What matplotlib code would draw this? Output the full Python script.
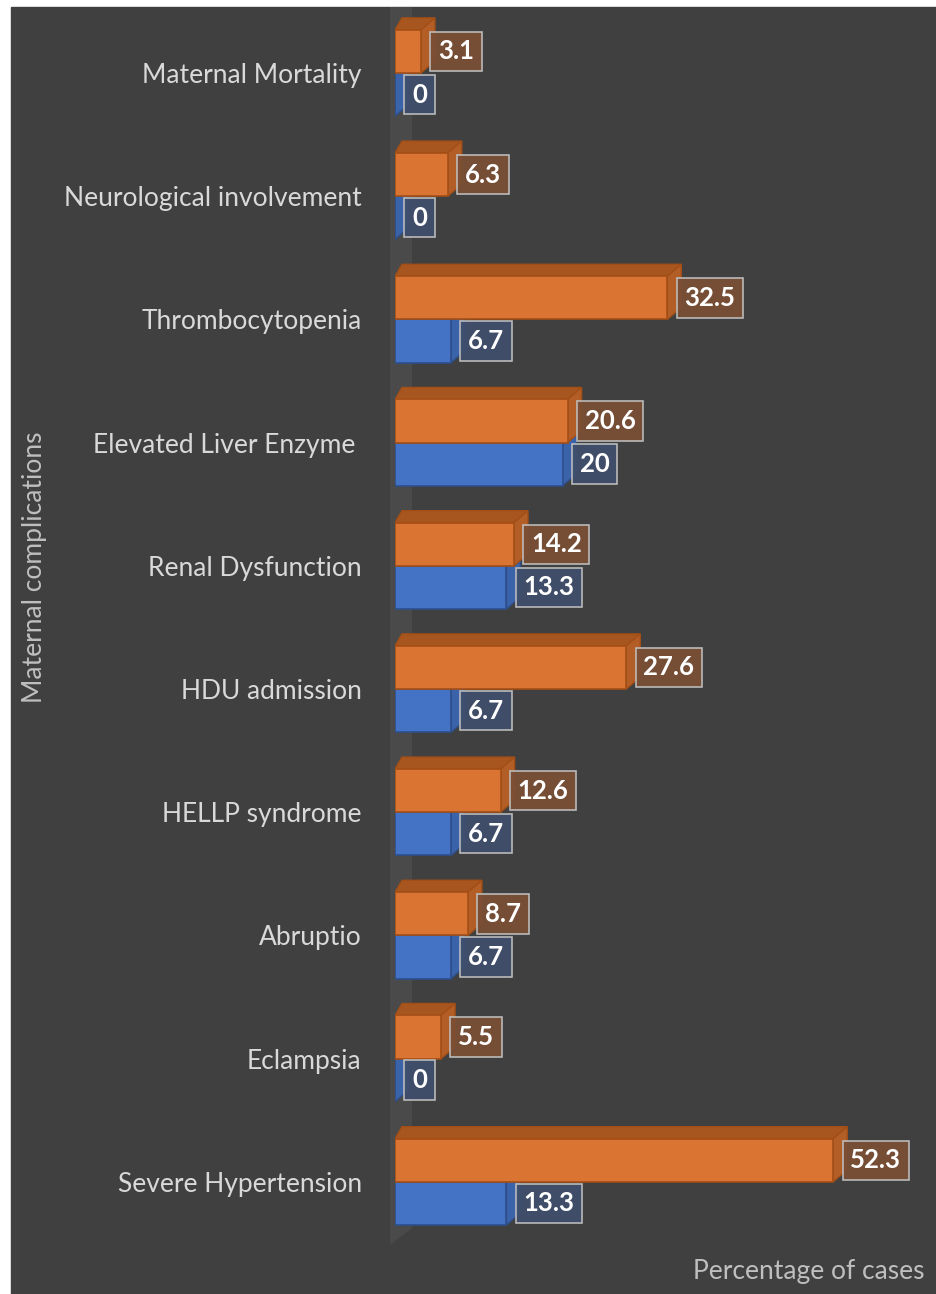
import matplotlib
matplotlib.use("Agg")
import matplotlib.pyplot as plt
from matplotlib.patches import Rectangle, Polygon

# ---- data ----
categories = ["Maternal Mortality", "Neurological involvement", "Thrombocytopenia",
              "Elevated Liver Enzyme ", "Renal Dysfunction", "HDU admission",
              "HELLP syndrome", "Abruptio", "Eclampsia", "Severe Hypertension"]
orange_vals = [3.1, 6.3, 32.5, 20.6, 14.2, 27.6, 12.6, 8.7, 5.5, 52.3]
blue_vals = [0, 0, 6.7, 20, 13.3, 6.7, 6.7, 6.7, 0, 13.3]
x_label = "Percentage of cases"
y_label = "Maternal complications"

# ---- styling ----
W, H = 937, 1294
BG = "#404040"
PX_X = 8.38      # pixels per percent
PX_Y = 123.2     # pixels per category
ORANGE = dict(front="#DA7433", top="#A85620", side="#B35E26", edge="#A34E16",
              lab="#7A4E35")
BLUE = dict(front="#4472C4", top="#30528F", side="#3A63AA", edge="#2D4F8C",
            lab="#3F4E6C")
BAR_H = 0.35
DXP, DYP = 14, 12
FONT = ["Lato", "DejaVu Sans"]

fig = plt.figure(figsize=(W / 100, H / 100), dpi=100, facecolor="white")
fig.patches.append(Rectangle((11 / W, 0), 1 - 11 / W, 1 - 7 / H,
                             transform=fig.transFigure, color=BG, zorder=-5))

ax = fig.add_axes([395 / W, 0, 1 - 395 / W, 1 - 7 / H])
ax.patch.set_alpha(0)
ymax_d = (H - 73) / PX_Y
ymin_d = (7 - 73) / PX_Y
ax.set_xlim(0, (W - 395) / PX_X)
ax.set_ylim(ymax_d, ymin_d)
for s in ax.spines.values():
    s.set_visible(False)
ax.set_xticks([])
ax.set_yticks(range(len(categories)))
ax.set_yticklabels(categories, fontsize=19, color="#D9D9D9", family=FONT)
ax.tick_params(axis="y", length=0, pad=24)

dx = DXP / PX_X
dy = DYP / PX_Y

# back wall
wall = Polygon([(-5 / PX_X, ymin_d), (-5 / PX_X, (1245 - 73) / PX_Y),
                (17 / PX_X, (1228 - 73) / PX_Y), (17 / PX_X, ymin_d)],
               closed=True, facecolor="#4A4A4A", edgecolor="none",
               zorder=1, clip_on=False)
ax.add_patch(wall)


def bar3d(v, y0, y1, c, z):
    # y0 = top (smaller), y1 = bottom
    top = Polygon([(0, y0), (v, y0), (v + dx, y0 - dy), (dx * 0.5, y0 - dy)],
                  closed=True, facecolor=c["top"], edgecolor=c["edge"], lw=1, zorder=z)
    side = Polygon([(v, y0), (v, y1), (v + dx, y1 - dy), (v + dx, y0 - dy)],
                   closed=True, facecolor=c["side"], edgecolor=c["edge"], lw=1, zorder=z)
    front = Rectangle((0, y0), v, y1 - y0, facecolor=c["front"],
                      edgecolor=c["edge"], lw=1.2, zorder=z + 0.1)
    for p in (top, side, front):
        ax.add_patch(p)


def label(v, yc, c):
    ax.annotate(f"{v:g}", xy=(v, yc), xytext=(17, 0), textcoords="offset pixels",
                ha="left", va="center", fontsize=18.5, fontweight="bold",
                color="white", family=FONT, zorder=10,
                bbox=dict(boxstyle="square,pad=0.3", facecolor=c["lab"],
                          edgecolor="#BFBFBF", lw=1.2, alpha=0.95))


for i, (o, b) in enumerate(zip(orange_vals, blue_vals)):
    bar3d(b, i, i + BAR_H, BLUE, 3)
    bar3d(o, i - BAR_H, i, ORANGE, 4)
for i, (o, b) in enumerate(zip(orange_vals, blue_vals)):
    label(o, i - BAR_H / 2, ORANGE)
    label(b, i + BAR_H / 2, BLUE)

fig.text(35 / W, 1 - 567 / H, y_label, rotation=90, ha="center", va="center",
         fontsize=19, color="#BFBFBF", family=FONT)
fig.text(925 / W, 1 - 1272 / H, x_label, ha="right", va="center",
         fontsize=19, color="#BFBFBF", family=FONT)

fig.savefig("out.png", dpi=100, facecolor="white")
